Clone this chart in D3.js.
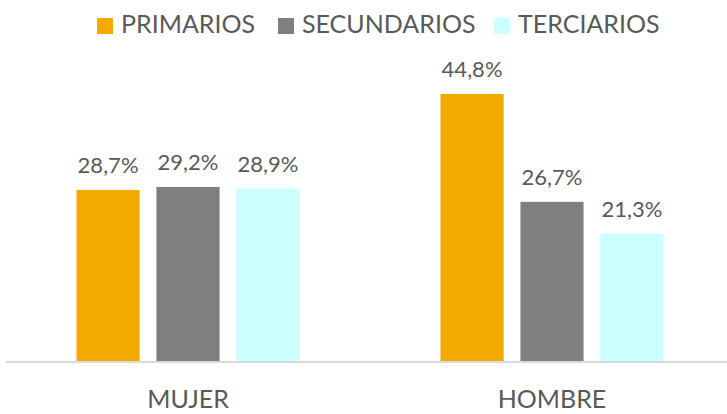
<!DOCTYPE html>
<html><head><meta charset="utf-8">
<script src="https://cdn.jsdelivr.net/npm/d3@7"></script>
<style>body{margin:0;background:#fff}svg{display:block}text{font-family:Lato,"Open Sans",sans-serif;fill:#595959;font-weight:400}</style>
</head><body><div id="chart"></div>
<script>
const categories = ["MUJER", "HOMBRE"];
const seriesNames = ["PRIMARIOS", "SECUNDARIOS", "TERCIARIOS"];
const primarios = [28.7, 44.8];
const secundarios = [29.2, 26.7];
const terciarios = [28.9, 21.3];
const colors = ["#F2A900", "#7F7F7F", "#CCFFFF"];

const W = 727, H = 414;
const svg = d3.select("#chart").append("svg").attr("width", W).attr("height", H);
const seriesVals = [primarios, secundarios, terciarios];
const baseY = 361;
const y = d3.scaleLinear().domain([0, 44.8]).range([baseY, 94]);
const x0 = d3.scaleBand().domain(categories).range([6, 734]).paddingInner(0).paddingOuter(0);
const x1 = d3.scaleBand().domain(seriesNames).range([0, 223]).paddingInner(0.21).paddingOuter(0);
const groupOffset = (x0.bandwidth() - 223) / 2;

// axis line
svg.append("line").attr("x1", 6).attr("x2", 727).attr("y1", baseY + 1).attr("y2", baseY + 1)
  .attr("stroke", "#D9D9D9").attr("stroke-width", 2);

const fmt = v => d3.format(".1f")(v).replace(".", ",") + "%";

categories.forEach((c, ci) => {
  const g = svg.append("g").attr("transform", `translate(${x0(c) + groupOffset},0)`);
  seriesNames.forEach((s, si) => {
    const v = seriesVals[si][ci];
    g.append("rect").attr("x", x1(s)).attr("width", x1.bandwidth())
      .attr("y", y(v)).attr("height", baseY - y(v)).attr("fill", colors[si]);
    g.append("text").attr("x", x1(s) + x1.bandwidth() / 2).attr("y", y(v) - 17)
      .attr("text-anchor", "middle").attr("font-size", 22).text(fmt(v));
  });
});

const xAxis = d3.axisBottom(x0).tickSize(0).tickPadding(0);
const ax = svg.append("g").attr("transform", `translate(0,${baseY})`).call(xAxis);
ax.select(".domain").remove();
ax.selectAll("text").attr("font-size", 25).attr("dy", 0).attr("y", 47)
  .style("font-family", "Lato,'Open Sans',sans-serif").style("font-weight", 400).attr("fill", "#595959");

// legend
const legX = [97, 278, 494];
seriesNames.forEach((s, i) => {
  svg.append("rect").attr("x", legX[i]).attr("y", 18).attr("width", 16).attr("height", 16).attr("fill", colors[i]);
  svg.append("text").attr("x", legX[i] + 24).attr("y", 33).attr("font-size", 25).text(s);
});
</script></body></html>
